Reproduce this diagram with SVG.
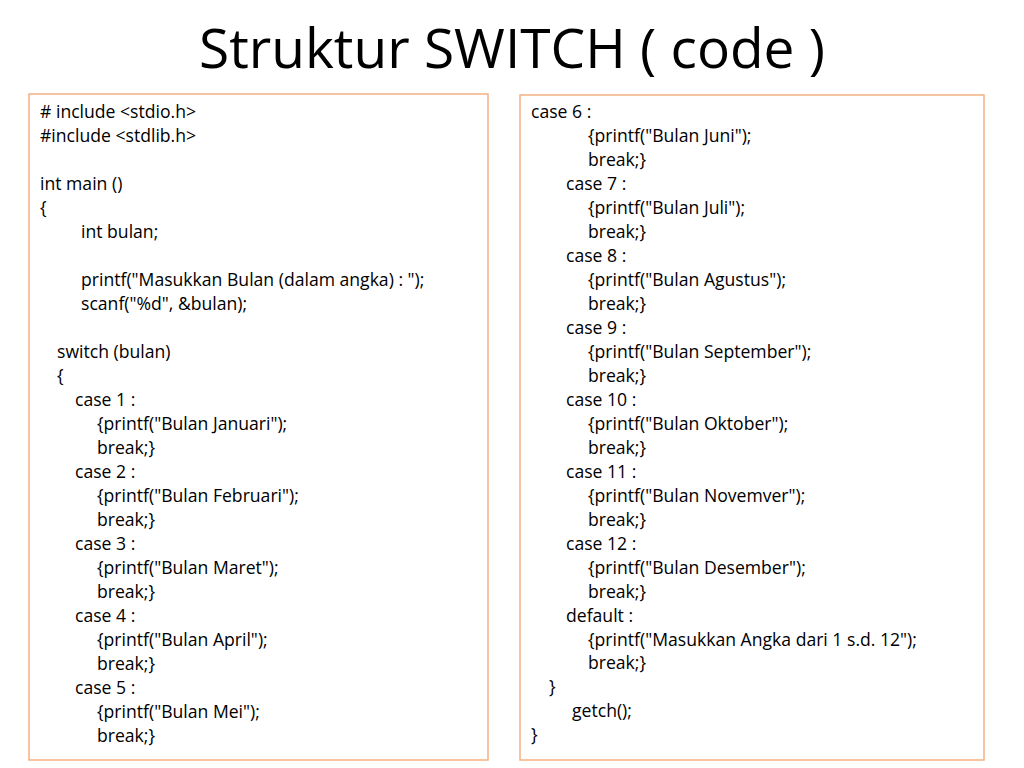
<svg xmlns="http://www.w3.org/2000/svg" width="1024" height="768" viewBox="0 0 1024 768">
<style>
.box{fill:#fff;stroke:#F4B183;stroke-width:1.5}
.t{font-family:"Open Sans","Liberation Sans",sans-serif;font-size:17.6px;fill:#000}
.title{font-family:"Open Sans","Liberation Sans",sans-serif;font-size:55px;fill:#000}
</style>
<rect width="1024" height="768" fill="#fff"/>
<text class="title" x="512" y="68" text-anchor="middle">Struktur SWITCH ( code )</text>
<g id="left">
<rect class="box" x="29" y="94" width="459" height="666"/>
<text class="t" x="40" y="118"># include &lt;stdio.h&gt;</text>
<text class="t" x="40" y="142">#include &lt;stdlib.h&gt;</text>
<text class="t" x="40" y="190">int main ()</text>
<text class="t" x="40" y="214">{</text>
<text class="t" x="81" y="238">int bulan;</text>
<text class="t" x="81" y="286">printf("Masukkan Bulan (dalam angka) : ");</text>
<text class="t" x="81" y="310">scanf("%d", &amp;bulan);</text>
<text class="t" x="57" y="358">switch (bulan)</text>
<text class="t" x="57" y="382">{</text>
<text class="t" x="75" y="406">case 1 :</text>
<text class="t" x="97" y="430">{printf("Bulan Januari");</text>
<text class="t" x="97" y="454">break;}</text>
<text class="t" x="75" y="478">case 2 :</text>
<text class="t" x="97" y="502">{printf("Bulan Februari");</text>
<text class="t" x="97" y="526">break;}</text>
<text class="t" x="75" y="550">case 3 :</text>
<text class="t" x="97" y="574">{printf("Bulan Maret");</text>
<text class="t" x="97" y="598">break;}</text>
<text class="t" x="75" y="622">case 4 :</text>
<text class="t" x="97" y="646">{printf("Bulan April");</text>
<text class="t" x="97" y="670">break;}</text>
<text class="t" x="75" y="694">case 5 :</text>
<text class="t" x="97" y="718">{printf("Bulan Mei");</text>
<text class="t" x="97" y="742">break;}</text>
</g>
<g id="right">
<rect class="box" x="520" y="95" width="464" height="665"/>
<text class="t" x="531" y="118">case 6 :</text>
<text class="t" x="588" y="142">{printf("Bulan Juni");</text>
<text class="t" x="588" y="166">break;}</text>
<text class="t" x="566" y="190">case 7 :</text>
<text class="t" x="588" y="214">{printf("Bulan Juli");</text>
<text class="t" x="588" y="238">break;}</text>
<text class="t" x="566" y="262">case 8 :</text>
<text class="t" x="588" y="286">{printf("Bulan Agustus");</text>
<text class="t" x="588" y="310">break;}</text>
<text class="t" x="566" y="334">case 9 :</text>
<text class="t" x="588" y="358">{printf("Bulan September");</text>
<text class="t" x="588" y="382">break;}</text>
<text class="t" x="566" y="406">case 10 :</text>
<text class="t" x="588" y="430">{printf("Bulan Oktober");</text>
<text class="t" x="588" y="454">break;}</text>
<text class="t" x="566" y="478">case 11 :</text>
<text class="t" x="588" y="502">{printf("Bulan Novemver");</text>
<text class="t" x="588" y="526">break;}</text>
<text class="t" x="566" y="550">case 12 :</text>
<text class="t" x="588" y="574">{printf("Bulan Desember");</text>
<text class="t" x="588" y="598">break;}</text>
<text class="t" x="566" y="622">default :</text>
<text class="t" x="588" y="646">{printf("Masukkan Angka dari 1 s.d. 12");</text>
<text class="t" x="588" y="669">break;}</text>
<text class="t" x="549" y="693">}</text>
<text class="t" x="572" y="717">getch();</text>
<text class="t" x="531" y="741">}</text>
</g>
</svg>
